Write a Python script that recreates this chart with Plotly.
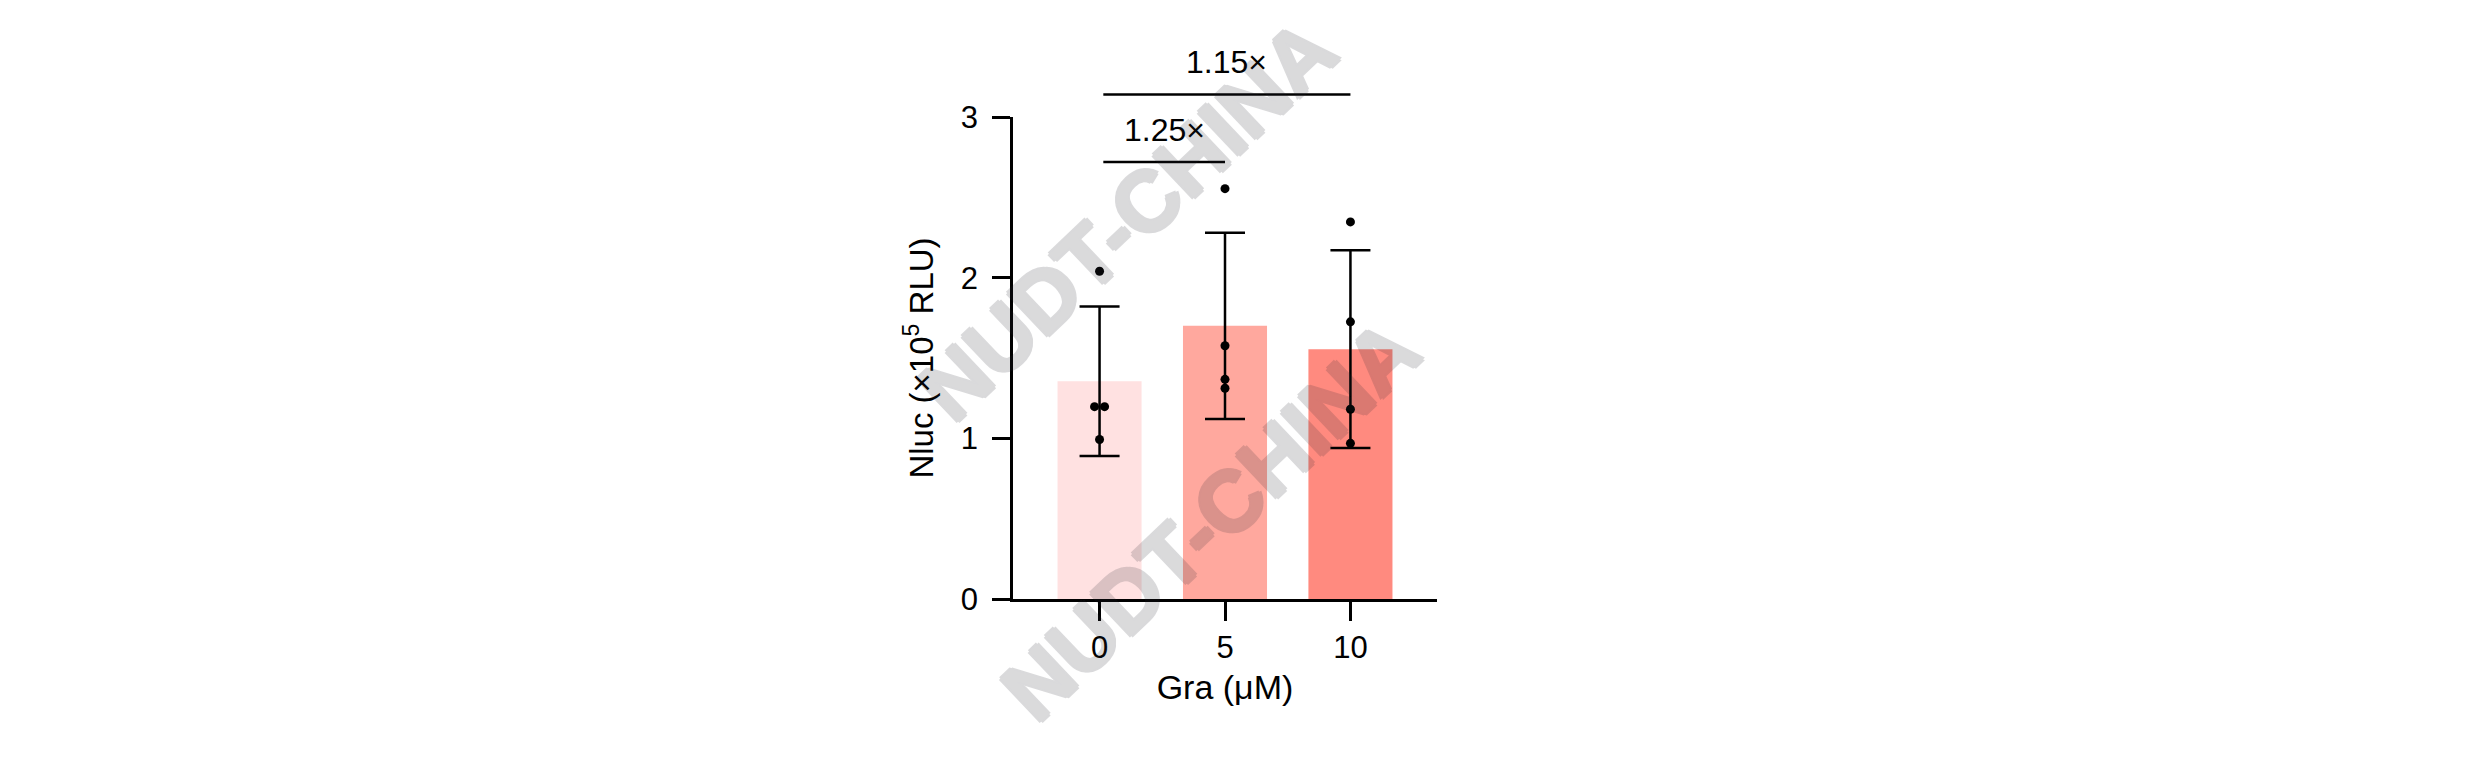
import plotly.graph_objects as go

# doses of Gra (uM) and Nluc readout (x10^5 RLU)
doses = ["0", "5", "10"]
means = [1.355, 1.70, 1.555]
sds = [0.465, 0.58, 0.615]
points = [
    [2.04, 1.197, 1.197, 0.993],
    [2.554, 1.576, 1.367, 1.312],
    [2.347, 1.725, 1.181, 0.969],
]
point_dx = [
    [0, -0.04, 0.04, 0],
    [0, 0, 0, 0],
    [0, 0, 0, 0],
]
bar_colors = ["#FFE1E1", "#FFA89E", "#FF8A7F"]

# fold-change brackets: from group, to group, height, label
bracket_from = [0, 0]
bracket_to = [1, 2]
bracket_y = [2.72, 3.14]
bracket_text = ["1.25×", "1.15×"]

ymax = 3
font = "Arial, Liberation Sans, sans-serif"
idx = list(range(len(doses)))

fig = go.Figure()
fig.add_trace(go.Bar(
    x=idx, y=means, width=0.67,
    marker={"color": bar_colors, "line": {"width": 0}},
    error_y={"type": "data", "array": sds, "visible": True,
             "color": "black", "thickness": 2.5, "width": 20},
    showlegend=False,
))

px, py = [], []
for i in idx:
    for v, d in zip(points[i], point_dx[i]):
        px.append(i + d)
        py.append(v)
fig.add_trace(go.Scatter(
    x=px, y=py, mode="markers",
    marker={"color": "black", "size": 9},
    cliponaxis=False, showlegend=False,
))

shapes = []
annotations = []
for a, b, h, t in zip(bracket_from, bracket_to, bracket_y, bracket_text):
    shapes.append({"type": "line", "xref": "x", "yref": "paper",
                   "x0": a + 0.03, "x1": b, "y0": h / ymax, "y1": h / ymax,
                   "line": {"color": "black", "width": 2.5}})
    annotations.append({"x": (a + 0.03 + b) / 2, "y": (h + 0.2) / ymax,
                        "xref": "x", "yref": "paper",
                        "xanchor": "center", "yanchor": "middle",
                        "text": t, "showarrow": False,
                        "font": {"size": 32, "color": "black", "family": font}})

# watermark (heavier strokes via shadow, whole group made translucent)
wm = "rgb(40,40,50)"
wm_shadow = f"2px 0 0 {wm}, -2px 0 0 {wm}, 0 2px 0 {wm}, 0 -2px 0 {wm}"
for wx, wy in [(0.269, 0.786), (0.465, 0.164)]:
    annotations.append({"x": wx, "y": wy, "xref": "paper", "yref": "paper",
                        "xanchor": "center", "yanchor": "middle",
                        "text": "<b>NUDT-CHINA</b>", "showarrow": False,
                        "textangle": -43.5, "opacity": 0.17,
                        "font": {"size": 86, "color": wm, "family": font,
                                 "shadow": wm_shadow}})

fig.update_layout(
    width=2465, height=748,
    margin={"l": 1005, "r": 1036, "t": 109, "b": 157},
    plot_bgcolor="white", paper_bgcolor="white",
    font={"family": font, "color": "black"},
    shapes=shapes,
    annotations=annotations,
)
fig.update_xaxes(
    range=[-0.69, 2.69], tickvals=idx, ticktext=doses,
    showline=True, linecolor="black", linewidth=2.5,
    ticks="outside", ticklen=19, tickwidth=2.5, tickcolor="black",
    tickfont={"size": 31}, showgrid=False, zeroline=False,
    title={"text": "Gra (μM)", "font": {"size": 34}, "standoff": 12},
)
fig.update_yaxes(
    range=[0, ymax], tickvals=[0, 1, 2, 3],
    showline=True, linecolor="black", linewidth=2.5,
    ticks="outside", ticklen=18, tickwidth=2.5, tickcolor="black",
    tickfont={"size": 31}, showgrid=False, zeroline=False,
    ticklabelstandoff=8,
    title={"text": "Nluc (×10<sup>5</sup> RLU)", "font": {"size": 33}, "standoff": 18},
)

fig.write_html("out.html")
